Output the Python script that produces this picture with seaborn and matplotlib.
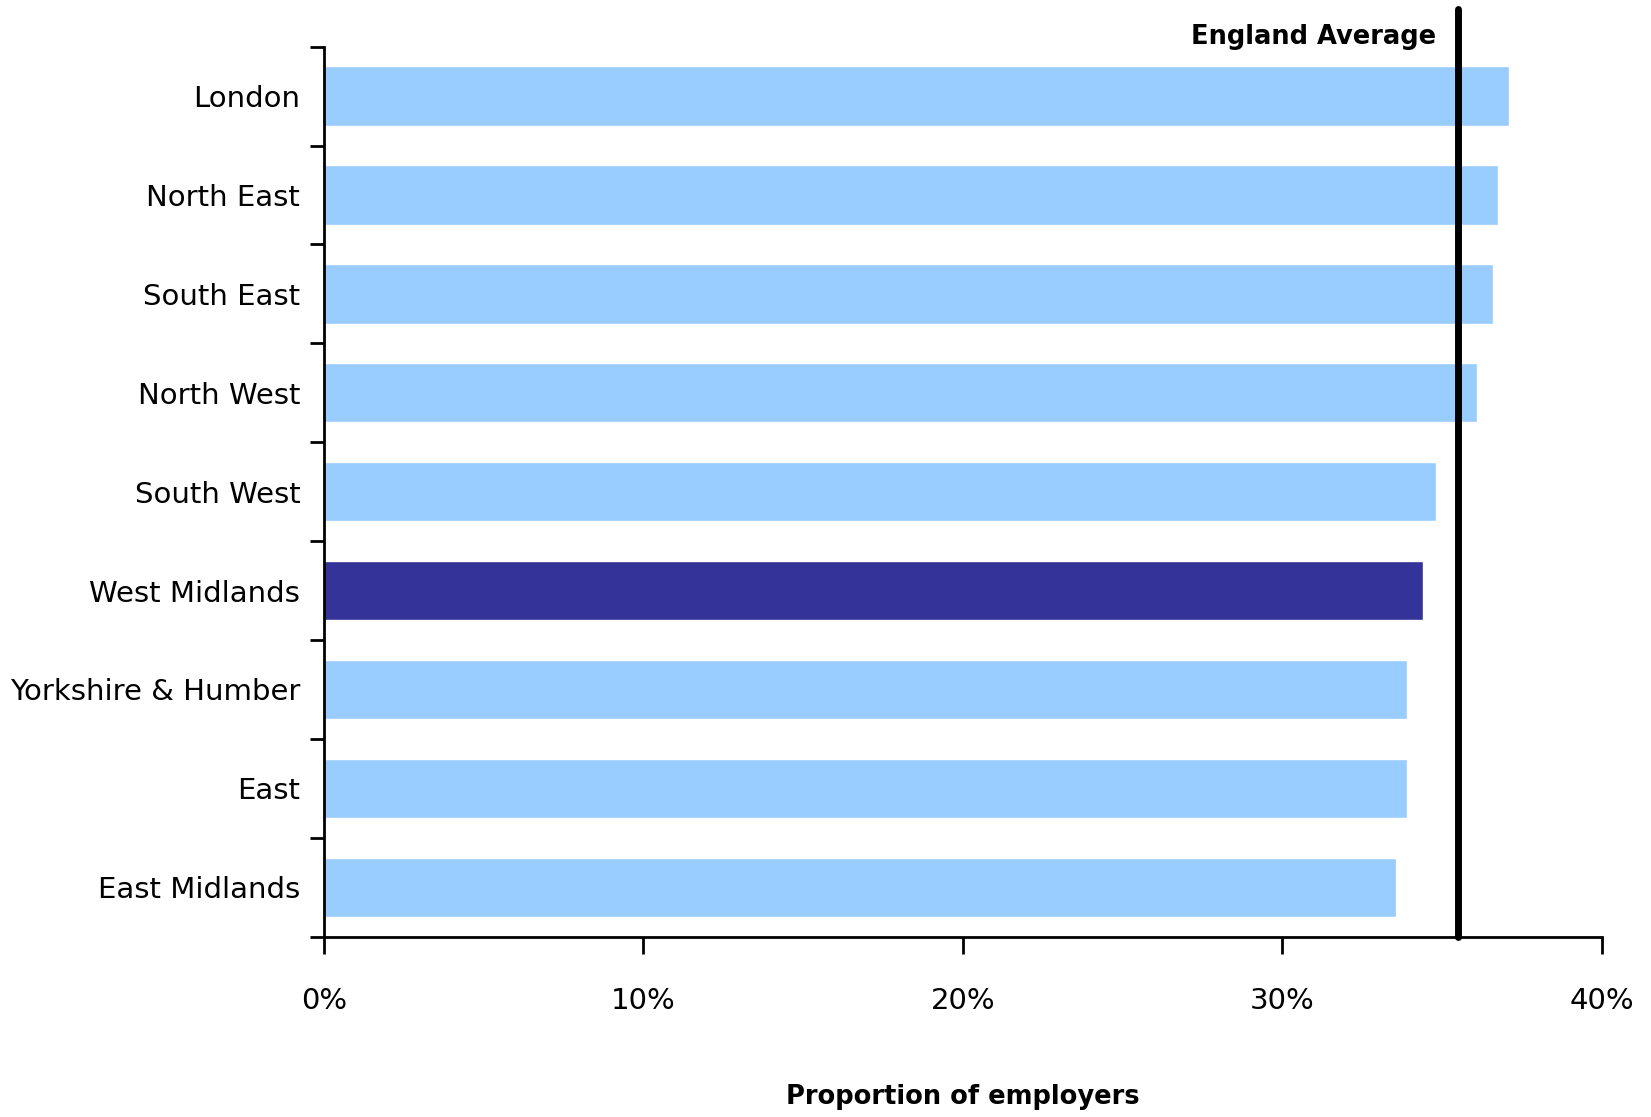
import pandas as pd
import numpy as np
import matplotlib
matplotlib.use("Agg")
import matplotlib.pyplot as plt
import matplotlib.transforms as mtransforms
from matplotlib.ticker import FuncFormatter, FixedLocator
import seaborn as sns

# Regional values (proportion of employers, %)
regions = ["London", "North East", "South East", "North West", "South West",
           "West Midlands", "Yorkshire & Humber", "East", "East Midlands"]
values = [37.1, 36.75, 36.6, 36.1, 34.8, 34.4, 33.9, 33.9, 33.55]
england_average = 35.5
highlight = "West Midlands"

bar_colors = ["#333399" if r == highlight else "#99CCFF" for r in regions]

data = pd.DataFrame({"region": regions, "value": values})

sns.set_style("white")
plt.rcParams['font.family'] = ['DejaVu Sans']
plt.rcParams['text.color'] = 'black'
plt.rcParams['xtick.color'] = 'black'
plt.rcParams['ytick.color'] = 'black'
plt.rcParams['axes.labelcolor'] = 'black'

fig = plt.figure(figsize=(16.51, 11.17), dpi=100)
ax = fig.add_axes([0.1962, 0.1614, 0.7741, 0.7968])

sns.barplot(data=data, x="value", y="region", hue="region", palette=bar_colors,
            legend=False, width=0.6, saturation=1, ax=ax)

ax.set_xlim(0, 40)
ax.set_ylim(len(regions) - 0.5, -0.5)

# England average line
ax.axvline(england_average, ymin=0, ymax=1.042, color="black", lw=5, clip_on=False)
trans = mtransforms.blended_transform_factory(ax.transData, ax.transAxes)
ax.annotate("England Average", xy=(england_average, 1.0), xycoords=trans,
            xytext=(-16, 7), textcoords="offset points",
            ha="right", va="center", fontsize=18.5, fontweight="bold")

# axes styling
for s in ["top", "right"]:
    ax.spines[s].set_visible(False)
for s in ["left", "bottom"]:
    ax.spines[s].set_linewidth(2)
    ax.spines[s].set_color("black")

ax.set_xticks(np.arange(0, 41, 10))
ax.xaxis.set_major_formatter(FuncFormatter(lambda v, p: f"{v:.0f}%"))
ax.tick_params(axis="x", direction="out", length=12, width=2, pad=24,
               labelsize=21, bottom=True)

ax.tick_params(axis="y", which="major", length=0, pad=17, labelsize=21)
ax.yaxis.set_minor_locator(FixedLocator(np.arange(-0.5, len(regions), 1.0)))
ax.tick_params(axis="y", which="minor", direction="out", length=10, width=2, left=True)

ax.set_ylabel("")
ax.set_xlabel("Proportion of employers", fontsize=18.5, fontweight="bold", labelpad=50)

fig.savefig("out.png", dpi=100)
